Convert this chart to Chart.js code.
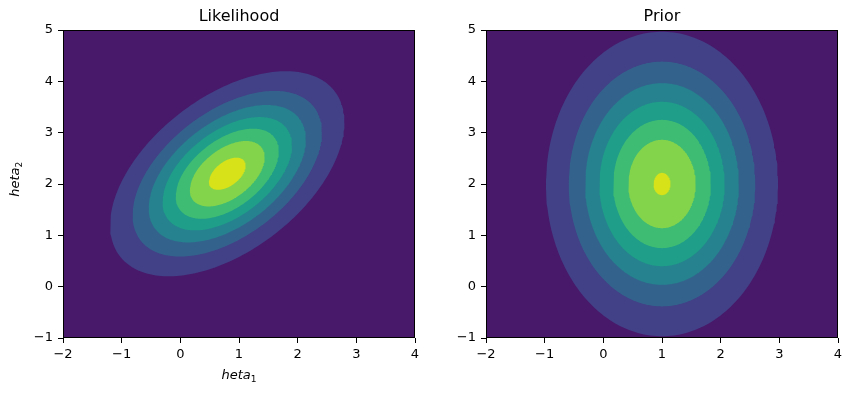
<!DOCTYPE html>
<html><head><meta charset="utf-8">
<script src="https://cdn.jsdelivr.net/npm/chart.js@4"></script>
<style>
html,body{margin:0;padding:0;background:#fff;}
#wrap{position:relative;width:852px;height:395px;overflow:hidden;}
canvas{position:absolute;top:0;}
</style></head><body>
<div id="wrap">
<canvas id="c1" width="426" height="395" style="left:0;width:426px;height:395px"></canvas>
<canvas id="c2" width="426" height="395" style="left:426px;width:426px;height:395px"></canvas>
</div>
<script>
// ---- data ----
const panelTitles = ['Likelihood', 'Prior'];
const xTicks = [-2, -1, 0, 1, 2, 3, 4];
const xTickLabels = ['\u22122', '\u22121', '0', '1', '2', '3', '4'];
const yTicks = [-1, 0, 1, 2, 3, 4, 5];
const yTickLabels = ['\u22121', '0', '1', '2', '3', '4', '5'];
const xLabel = ['heta', '1'];   // main text, subscript
const yLabel = ['heta', '2'];
// bivariate Gaussian parameters
const likelihoodMean = [0.8, 2.2];
const likelihoodCov = [[1.0, 0.5], [0.5, 1.0]];
const likelihoodLevels = [0.025, 0.05, 0.075, 0.1, 0.125, 0.15, 0.175];
const priorMean = [1.0, 2.0];
const priorCov = [[1.0, 0.0], [0.0, 2.25]];
const priorLevels = [0.015, 0.03, 0.045, 0.06, 0.075, 0.09, 0.105];
// ---- style ----
const bandColors = ['#48186a', '#424086', '#33638d', '#26828e', '#1f9e89', '#3fbc73', '#84d44b', '#d8e219'];
const FONT = "'DejaVu Sans', sans-serif";

function contourRing(mean, cov, level, n) {
  const a = cov[0][0], b = cov[0][1], c = cov[1][1];
  const det = a * c - b * b;
  const peak = 1 / (2 * Math.PI * Math.sqrt(det));
  const r = Math.sqrt(2 * Math.log(peak / level));
  const l11 = Math.sqrt(a), l21 = b / l11, l22 = Math.sqrt(c - l21 * l21);
  const pts = [];
  for (let i = 0; i <= n; i++) {
    const t = 2 * Math.PI * i / n;
    const u = Math.cos(t), v = Math.sin(t);
    pts.push({x: mean[0] + r * l11 * u, y: mean[1] + r * (l21 * u + l22 * v)});
  }
  return pts;
}

const bgPlugin = {
  id: 'bgband',
  beforeDatasetsDraw(chart) {
    const {ctx, chartArea: a} = chart;
    ctx.save();
    ctx.fillStyle = bandColors[0];
    ctx.fillRect(a.left, a.top, a.right - a.left, a.bottom - a.top);
    ctx.restore();
  },
  afterDatasetsDraw(chart) {
    const {ctx, chartArea: a} = chart;
    ctx.save();
    ctx.strokeStyle = '#000';
    ctx.lineWidth = 1;
    ctx.strokeRect(a.left + 0.5, a.top + 0.5, a.right - a.left - 1, a.bottom - a.top - 1);
    ctx.restore();
  }
};

function drawMathLabel(ctx, parts, x, y, rot) {
  ctx.save();
  ctx.translate(x, y);
  ctx.rotate(rot);
  ctx.fillStyle = '#000';
  ctx.textBaseline = 'alphabetic';
  ctx.textAlign = 'left';
  const mainFont = 'italic 13px ' + FONT;
  const subFont = '9.1px ' + FONT;
  ctx.font = mainFont;
  const w1 = ctx.measureText(parts[0]).width;
  ctx.font = subFont;
  const w2 = ctx.measureText(parts[1]).width;
  const x0 = -(w1 + w2) / 2;
  ctx.font = mainFont;
  ctx.fillText(parts[0], x0, 0);
  ctx.font = subFont;
  ctx.fillText(parts[1], x0 + w1, 2.7);
  ctx.restore();
}

const axisLabelPlugin = {
  id: 'axlabels',
  afterDraw(chart, args, opts) {
    const {ctx, chartArea: a} = chart;
    if (opts.x) drawMathLabel(ctx, xLabel, (a.left + a.right) / 2, 379.3, 0);
    if (opts.y) drawMathLabel(ctx, yLabel, 19.3, 179.3, -Math.PI / 2);
  }
};

function makePanel(id, title, mean, cov, levels, cfg) {
  const datasets = levels.map((lv, k) => ({
    data: contourRing(mean, cov, lv, 240),
    showLine: true,
    fill: 'shape',
    backgroundColor: bandColors[k + 1],
    borderColor: 'rgba(0,0,0,0)',
    borderWidth: 0,
    pointRadius: 0,
    pointHoverRadius: 0,
    tension: 0,
    order: 100 - k
  }));
  const tickFont = {family: FONT, size: 13};
  new Chart(document.getElementById(id), {
    type: 'scatter',
    data: {datasets},
    plugins: [bgPlugin, axisLabelPlugin],
    options: {
      responsive: false,
      animation: false,
      events: [],
      layout: {padding: {left: 0, right: cfg.padRight, top: 0, bottom: 0}},
      plugins: {
        legend: {display: false},
        tooltip: {enabled: false},
        title: {
          display: true, text: title, color: '#000', fullSize: false,
          font: {family: FONT, size: 16, weight: 'normal', lineHeight: 1.2},
          padding: {top: 7.15, bottom: 3.65}
        },
        axlabels: {x: cfg.xTitle, y: cfg.yTitle}
      },
      scales: {
        x: {
          type: 'linear', min: xTicks[0], max: xTicks[xTicks.length - 1],
          afterBuildTicks: (s) => { s.ticks = xTicks.map(v => ({value: v})); },
          afterFit: (s) => { s.height = 57; s.paddingLeft = 0; s.paddingRight = 0; },
          ticks: {
            color: '#000', font: tickFont, padding: 4, maxRotation: 0, autoSkip: false,
            callback: (v) => xTickLabels[xTicks.indexOf(v)]
          },
          grid: {drawOnChartArea: false, drawTicks: true, tickLength: 5, color: '#000', lineWidth: 1},
          border: {display: false}
        },
        y: {
          type: 'linear', min: yTicks[0], max: yTicks[yTicks.length - 1],
          afterBuildTicks: (s) => { s.ticks = yTicks.map(v => ({value: v})); },
          afterFit: (s) => { s.width = cfg.yWidth; s.paddingTop = 0; s.paddingBottom = 0; },
          ticks: {
            color: '#000', font: tickFont, padding: 5, autoSkip: false,
            callback: (v) => yTickLabels[yTicks.indexOf(v)]
          },
          grid: {drawOnChartArea: false, drawTicks: true, tickLength: 5, color: '#000', lineWidth: 1},
          border: {display: false}
        }
      }
    }
  });
}

makePanel('c1', panelTitles[0], likelihoodMean, likelihoodCov, likelihoodLevels,
  {padRight: 11, yWidth: 63, xTitle: true, yTitle: true});
makePanel('c2', panelTitles[1], priorMean, priorCov, priorLevels,
  {padRight: 14, yWidth: 60, xTitle: false, yTitle: false});
</script>
</body></html>
